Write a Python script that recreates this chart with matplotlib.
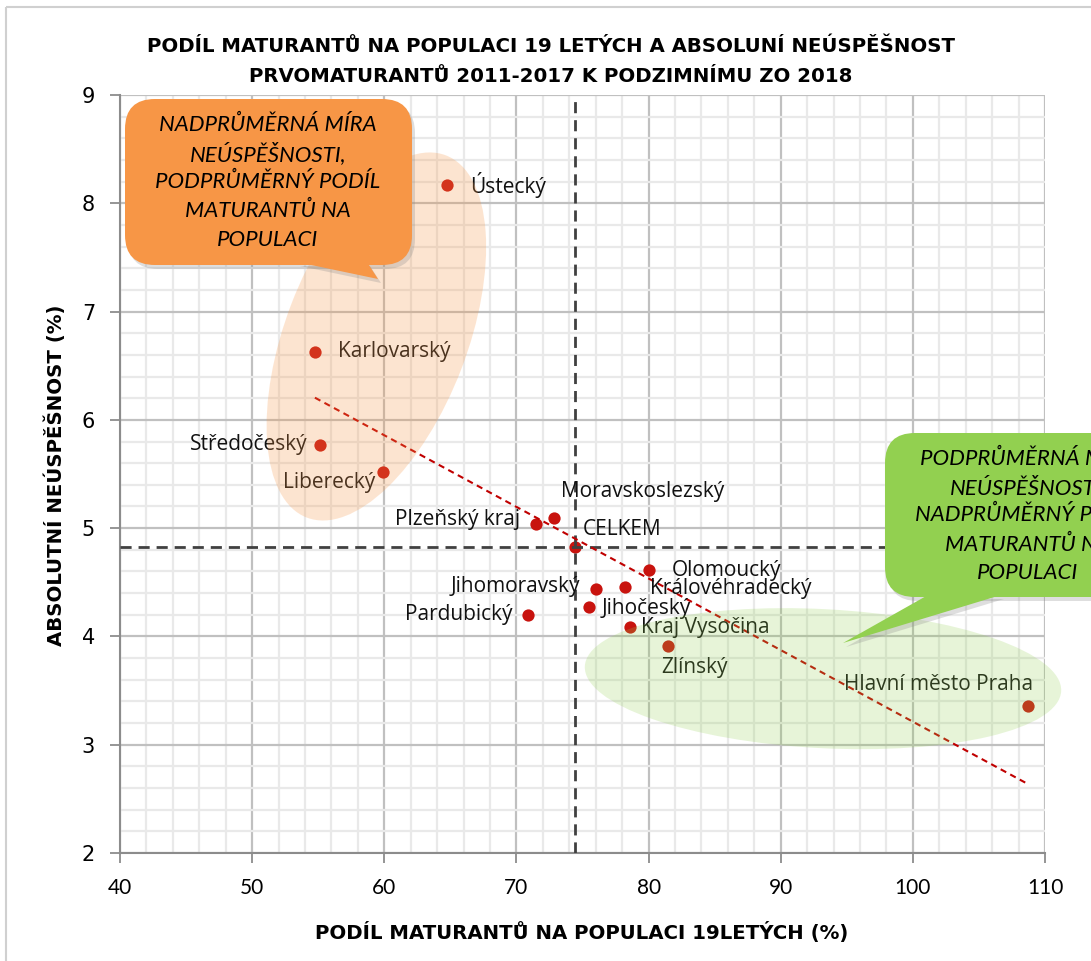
import numpy as np
import matplotlib
matplotlib.use("Agg")
import matplotlib.pyplot as plt
from matplotlib.patches import Ellipse, FancyBboxPatch, Polygon, Rectangle
from matplotlib.transforms import Affine2D, ScaledTranslation, IdentityTransform

plt.rcParams['font.family'] = ['Lato', 'DejaVu Sans']

# data
kraje = ["Ústecký", "Karlovarský", "Středočeský", "Liberecký", "Plzeňský kraj",
         "Moravskoslezský", "Olomoucký", "Jihomoravský", "Královéhradecký",
         "Jihočeský", "Pardubický", "Kraj Vysočina", "Zlínský", "Hlavní město Praha"]
podil = [64.75, 54.75, 55.1, 59.9, 71.45, 72.85, 80.0, 76.0, 78.2, 75.5, 70.9, 78.6, 81.5, 108.75]
neuspesnost = [8.17, 6.63, 5.77, 5.52, 5.04, 5.09, 4.61, 4.44, 4.46, 4.27, 4.20, 4.09, 3.91, 3.36]
celkem_x, celkem_y = 74.45, 4.83

# label placement (pixels) per point
offsets = [(23, 0, 'left'), (23, 0, 'left'), (-12, 0, 'right'), (-8, -11, 'right'),
           (-15, 4, 'right'), (7, 27, 'left'), (23, 0, 'left'), (-16, 2, 'right'),
           (25, -2, 'left'), (13, -1, 'left'), (-16, 0, 'right'), (11, -1, 'left'),
           (26, -21, 'center'), (5, 21, 'right')]

W, H = 1091, 961
fig = plt.figure(figsize=(W / 100, H / 100), dpi=100)
ax = fig.add_axes([120 / W, 1 - 853 / H, (1045 - 120) / W, (853 - 95) / H])
PX = Affine2D().scale(1 / W, -1 / H).translate(0, 1) + fig.transFigure

fig.patches.append(Rectangle((6, 7), 3000, 3000, transform=PX, fill=False,
                             edgecolor='#D0D0D0', lw=1.5))

ax.set_xlim(40, 110)
ax.set_ylim(2, 9)
ax.set_xticks(np.arange(40, 111, 10))
ax.set_yticks(np.arange(2, 10, 1))
ax.set_xticks(np.arange(40, 111, 2), minor=True)
ax.set_yticks(np.arange(2, 9.01, 0.2), minor=True)
ax.grid(which='minor', color='#E9E9E9', lw=1.6, zorder=0)
ax.grid(which='major', color='#C0C0C0', lw=1.6, zorder=0)
ax.set_axisbelow(True)
for s in ['top', 'right']:
    ax.spines[s].set_visible(False)
for s in ['left', 'bottom']:
    ax.spines[s].set_color('#8C8C8C')
    ax.spines[s].set_linewidth(1.5)
ax.tick_params(which='minor', length=0)
ax.tick_params(axis='y', which='major', length=7, width=1.3, color='#8C8C8C', pad=11)
ax.tick_params(axis='x', which='major', length=7, width=1.3, color='#8C8C8C', pad=11, labelsize=15)
for lab in ax.get_yticklabels():
    lab.set_family(['DejaVu Sans'])
    lab.set_fontsize(15)

ax.scatter(podil, neuspesnost, s=78, color='#C8130E', zorder=3, linewidths=0)
ax.scatter([celkem_x], [celkem_y], s=78, color='#C8130E', zorder=3, linewidths=0)

for name, x, y, (dx, dy, ha) in zip(kraje, podil, neuspesnost, offsets):
    ax.annotate(name, (x, y), xytext=(dx, dy), textcoords='offset pixels',
                ha=ha, va='center', fontsize=15, color='#111111', zorder=4,
                family=['Open Sans', 'DejaVu Sans'])
ax.annotate("CELKEM", (celkem_x, celkem_y), xytext=(8, 17), textcoords='offset pixels',
            ha='left', va='center', fontsize=15, color='#111111', zorder=4,
            family=['Open Sans', 'DejaVu Sans'])

# mean lines
ax.axvline(celkem_x, color='#404040', lw=2, ls=(0, (4, 2.5)), zorder=3.5)
ax.axhline(celkem_y, color='#404040', lw=2, ls=(0, (4, 2.5)), zorder=3.5)

# linear trend over the regions
k, q = np.polyfit(podil, neuspesnost, 1)
tx = np.array([min(podil), max(podil)])
ax.plot(tx, k * tx + q, color='#C00000', lw=1.5, ls=(0, (3, 2.2)), zorder=3.6)

# highlight ellipses (pixel sized, anchored in data)
e1 = Ellipse((0, 0), 388, 182, angle=69, color='#F79646', alpha=0.25, lw=0, clip_on=False,
             transform=IdentityTransform() + ScaledTranslation(59.4, 6.77, ax.transData), zorder=5)
e2 = Ellipse((0, 0), 477, 139, angle=-3, color='#92D050', alpha=0.22, lw=0, clip_on=False,
             transform=IdentityTransform() + ScaledTranslation(93.2, 3.61, ax.transData), zorder=5)
ax.add_patch(e1)
ax.add_patch(e2)


def callout(x0, y0, x1, y1, tail, color, lines, cx, ys):
    for off, col, a in [((3, 4), '#8A8A8A', 0.28), ((0, 0), color, 1.0)]:
        box = FancyBboxPatch((x0 + off[0], y0 + off[1]), x1 - x0, y1 - y0,
                             boxstyle="round,pad=0,rounding_size=30", transform=PX,
                             facecolor=col, edgecolor='none', alpha=a, zorder=6)
        tri = Polygon([(p[0] + off[0], p[1] + off[1]) for p in tail], closed=True,
                      transform=PX, facecolor=col, edgecolor='none', alpha=a, zorder=6)
        fig.patches.append(box)
        fig.patches.append(tri)
    for t, y in zip(lines, ys):
        fig.text(cx / W, 1 - y / H, t, ha='center', va='center', fontsize=16,
                 style='italic', color='black', zorder=7)


callout(125, 99, 412, 265, [(297, 262), (367, 262), (378, 279)], '#F79646',
        ["NADPRŮMĚRNÁ MÍRA", "NEÚSPĚŠNOSTI,", "PODPRŮMĚRNÝ PODÍL", "MATURANTŮ NA", "POPULACI"],
        268, [125, 154, 182, 211, 240])
callout(885, 433, 1171, 597, [(928, 595), (1001, 595), (843, 643)], '#92D050',
        ["PODPRŮMĚRNÁ MÍRA", "NEÚSPĚŠNOSTI,", "NADPRŮMĚRNÝ PODÍL", "MATURANTŮ NA", "POPULACI"],
        1028, [459, 487, 515, 545, 573])

bold = dict(fontweight='bold', color='black', ha='center', va='center',
            family=['DejaVu Sans'])
fig.text(551 / W, 1 - 47 / H, "PODÍL MATURANTŮ NA POPULACI 19 LETÝCH A ABSOLUNÍ NEÚSPĚŠNOST",
         fontsize=14.2, **bold)
fig.text(551 / W, 1 - 77 / H, "PRVOMATURANTŮ 2011-2017 K PODZIMNÍMU ZO 2018", fontsize=14.2, **bold)
fig.text(582 / W, 1 - 932 / H, "PODÍL MATURANTŮ NA POPULACI 19LETÝCH (%)", fontsize=14.2, **bold)
fig.text(55 / W, 1 - 475 / H, "ABSOLUTNÍ NEÚSPĚŠNOST (%)", fontsize=14.2, rotation=90, **bold)

fig.savefig("out.png", dpi=100)
